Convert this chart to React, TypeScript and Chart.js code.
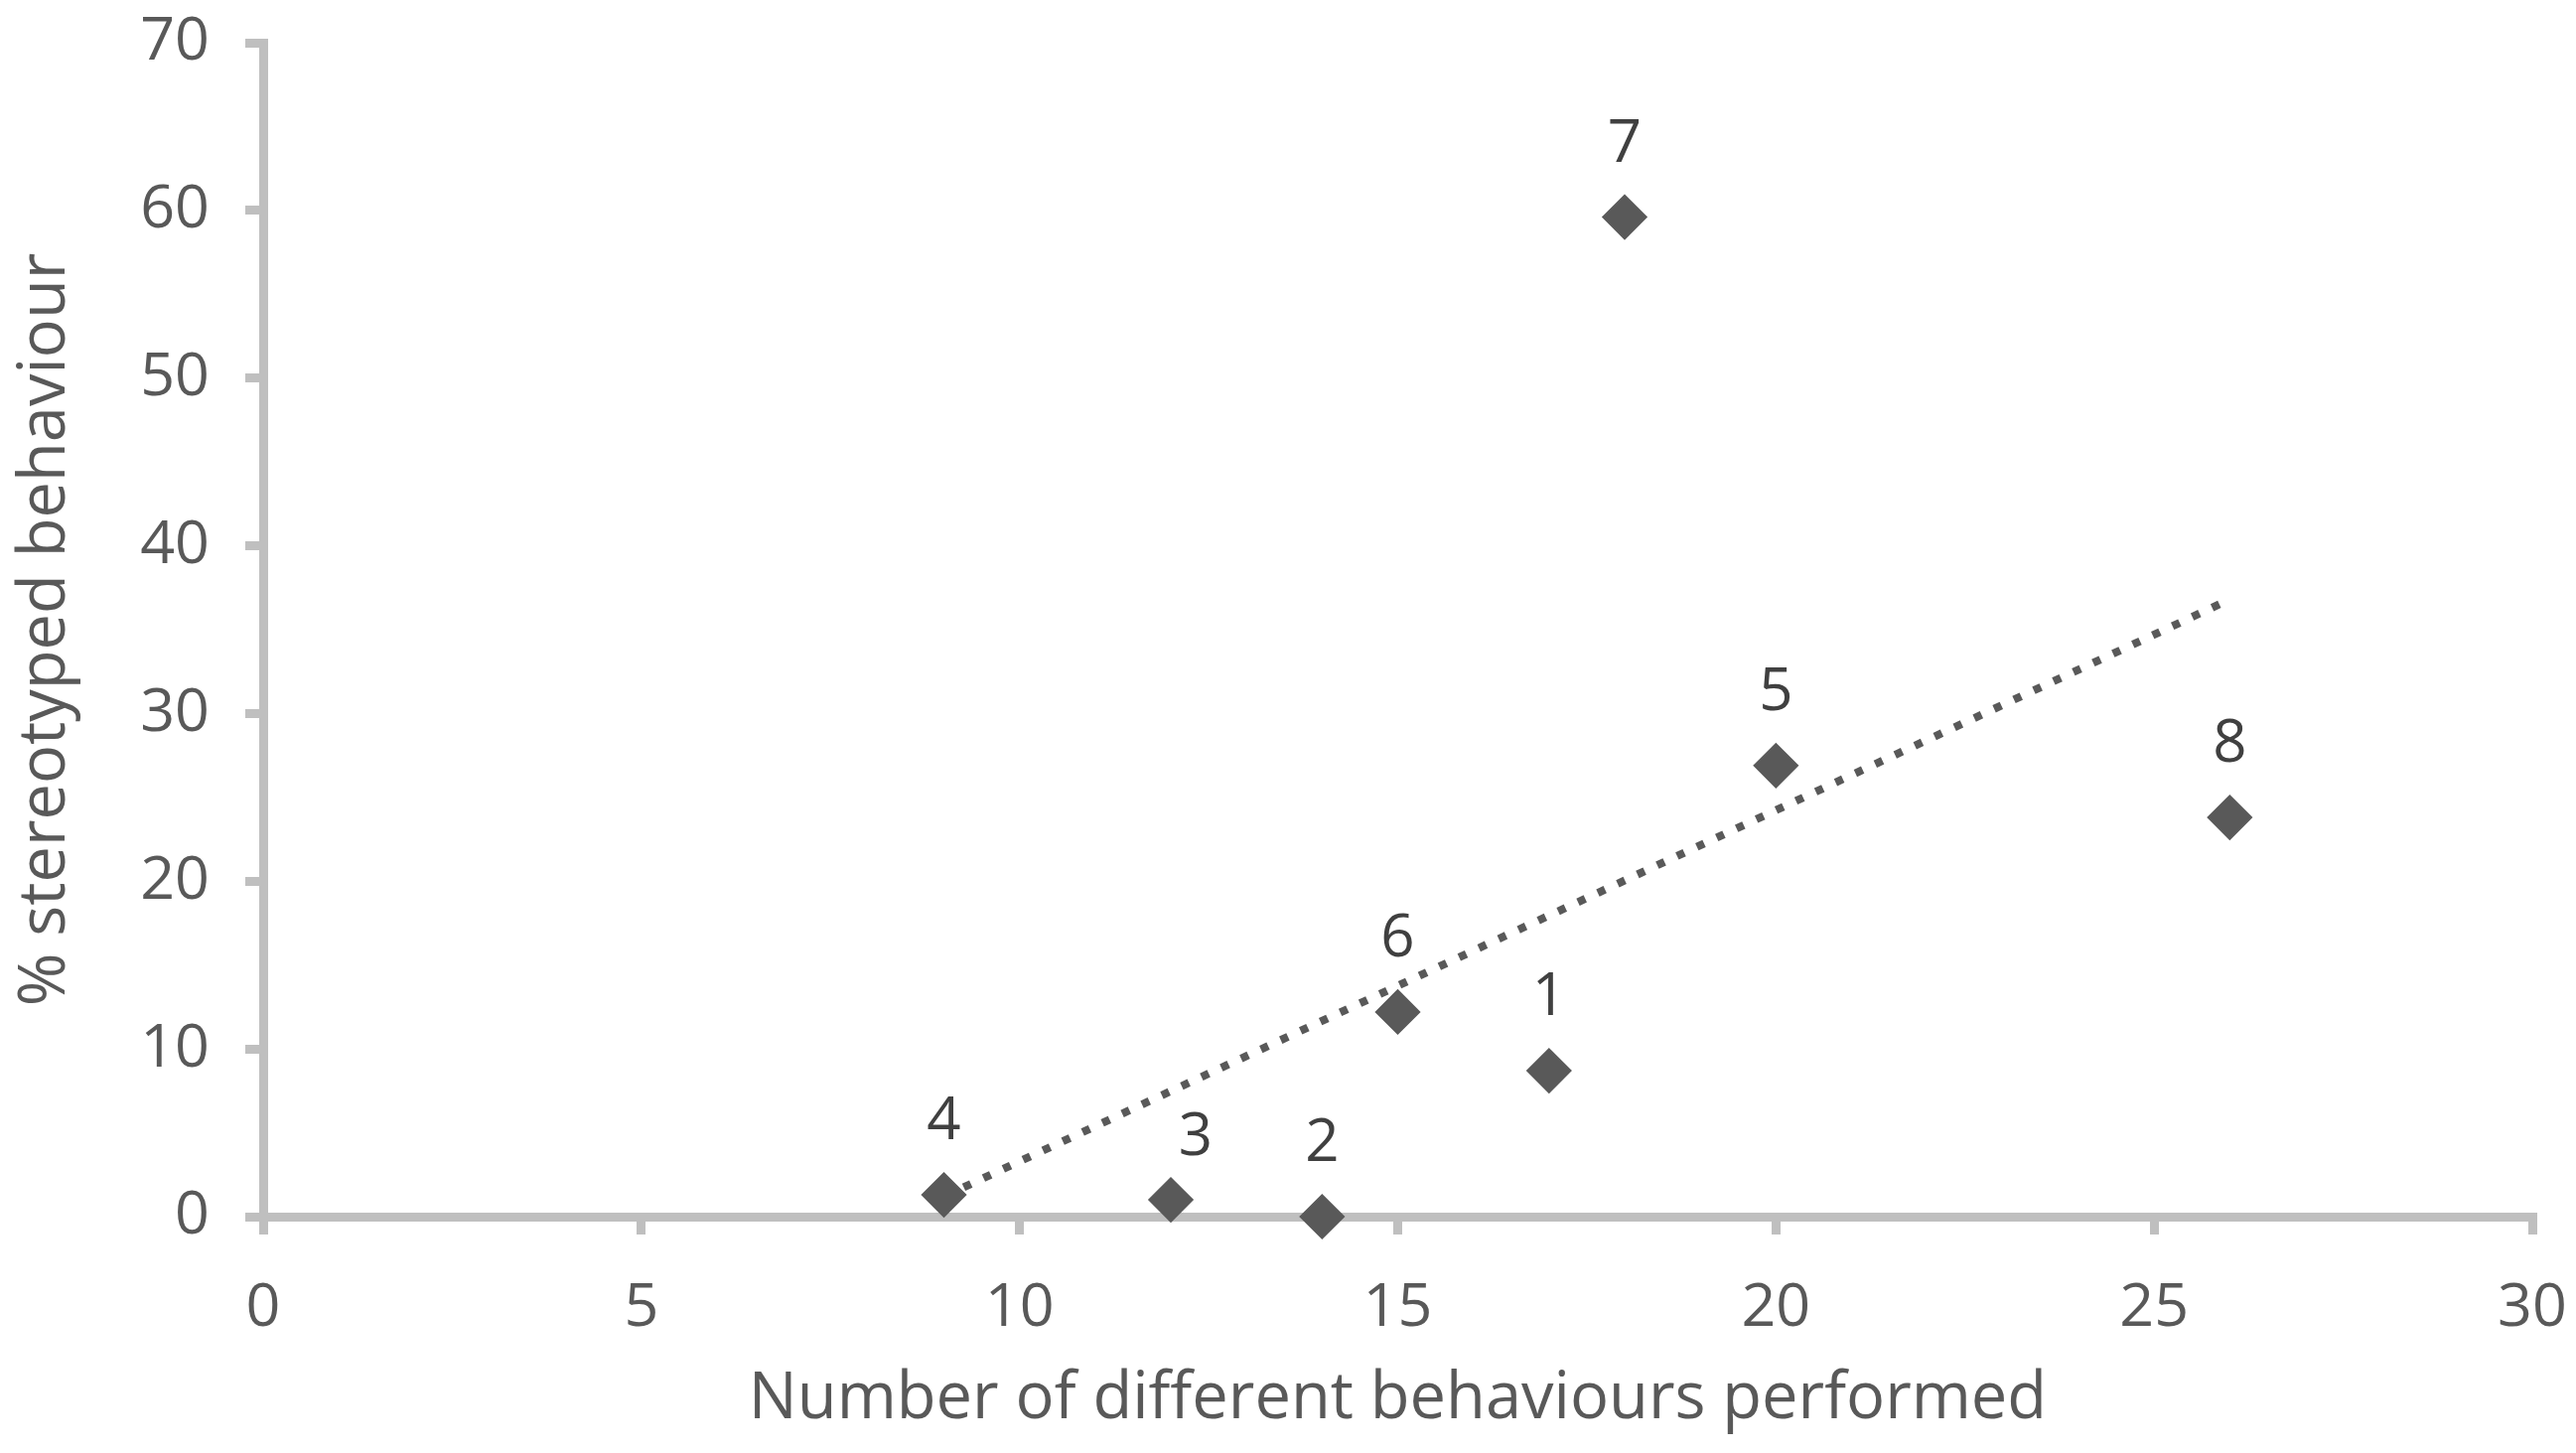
import React, { useEffect, useRef } from "react";
import { Chart, registerables } from "chart.js";

Chart.register(...registerables);

// Individual IDs, in data order
const ids = ["1", "2", "3", "4", "5", "6", "7", "8"];
// Number of different behaviours performed
const behaviours = [17, 14, 12, 9, 20, 15, 18, 26];
// % stereotyped behaviour
const stereotypy = [8.7, 0, 1.0, 1.3, 26.9, 12.2, 59.6, 23.8];
// Linear trendline end points
const trendX = [9, 26];
const trendY = [1.2, 36.8];
// Axis ticks
const xTicks = [0, 5, 10, 15, 20, 25, 30];
const yTicks = [0, 10, 20, 30, 40, 50, 60, 70];

const W = 2594;
const H = 1463;
const FONT = "'Open Sans', 'Noto Sans', sans-serif";
const AXIS = "#BFBFBF";
const TEXT = "#595959";
const MARK = "#595959";

const labelPlugin = {
  id: "pointLabels",
  afterDatasetsDraw(chart: any) {
    const meta = chart.getDatasetMeta(0);
    const ctx = chart.ctx;
    ctx.save();
    ctx.font = `60px ${FONT}`;
    ctx.fillStyle = "#404040";
    ctx.textAlign = "center";
    ctx.textBaseline = "alphabetic";
    meta.data.forEach((pt: any, i: number) => {
      const id = ids[i];
      let dx = 0;
      let dy = -77;
      if (id === "3") {
        dx = 25;
        dy = -66;
      }
      ctx.fillText(id, pt.x + dx, pt.y + dy + 21);
    });
    ctx.restore();
  },
};

export default function App() {
  const ref = useRef<HTMLCanvasElement | null>(null);

  useEffect(() => {
    if (!ref.current) return;
    const points = behaviours.map((x, i) => ({ x, y: stereotypy[i] }));
    const trend = trendX.map((x, i) => ({ x, y: trendY[i] }));
    const chart = new Chart(ref.current, {
      type: "scatter",
      data: {
        datasets: [
          {
            label: "points",
            data: points,
            pointStyle: "rectRot",
            pointRadius: 21,
            pointBackgroundColor: MARK,
            pointBorderColor: MARK,
            pointBorderWidth: 3,
            showLine: false,
            clip: false as any,
            order: 1,
          },
          {
            label: "trend",
            data: trend,
            showLine: true,
            pointRadius: 0,
            borderColor: MARK,
            borderWidth: 8,
            borderDash: [8, 14],
            borderCapStyle: "butt",
            clip: false as any,
            order: 2,
          },
        ],
      },
      options: {
        animation: false,
        responsive: false,
        devicePixelRatio: 1,
        layout: { padding: { top: 43, right: 44, left: 0, bottom: 0 } },
        plugins: {
          legend: { display: false },
          tooltip: { enabled: false },
        },
        scales: {
          x: {
            type: "linear",
            min: 0,
            max: 30,
            afterBuildTicks: (s: any) => {
              s.ticks = xTicks.map((v) => ({ value: v }));
            },
            afterFit: (s: any) => {
              s.height = H - 1225;
              s.paddingLeft = 0;
              s.paddingRight = 0;
            },
            ticks: {
              color: TEXT,
              font: { family: FONT, size: 61 },
              padding: 38,
              maxRotation: 0,
            },
            grid: {
              drawOnChartArea: false,
              drawTicks: true,
              tickLength: 18,
              color: AXIS,
              lineWidth: 9,
            },
            border: { display: true, color: AXIS, width: 9 },
            title: {
              display: true,
              text: "Number of different behaviours performed",
              color: TEXT,
              font: { family: FONT, size: 65 },
              padding: { top: 15, bottom: 15 },
            },
          },
          y: {
            type: "linear",
            min: 0,
            max: 70,
            afterBuildTicks: (s: any) => {
              s.ticks = yTicks.map((v) => ({ value: v }));
            },
            afterFit: (s: any) => {
              s.width = 265;
              s.paddingTop = 0;
              s.paddingBottom = 0;
            },
            ticks: {
              color: TEXT,
              font: { family: FONT, size: 61 },
              padding: 36,
            },
            grid: {
              drawOnChartArea: false,
              drawTicks: true,
              tickLength: 18,
              color: AXIS,
              lineWidth: 9,
            },
            border: { display: true, color: AXIS, width: 9 },
            title: {
              display: true,
              text: "% stereotyped behaviour",
              color: TEXT,
              font: { family: FONT, size: 65 },
              padding: { top: 7, bottom: 7 },
            },
          },
        },
      },
      plugins: [labelPlugin],
    } as any);
    return () => chart.destroy();
  }, []);

  return (
    <div
      style={{
        position: "fixed",
        left: 0,
        top: 0,
        width: W,
        height: H,
        background: "#ffffff",
        overflow: "hidden",
      }}
    >
      <canvas ref={ref} width={W} height={H} style={{ width: W, height: H, display: "block" }} />
    </div>
  );
}
